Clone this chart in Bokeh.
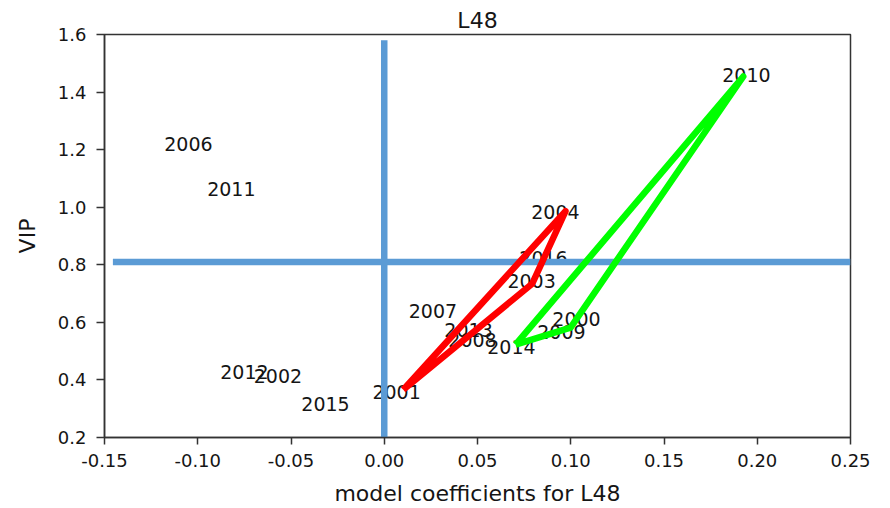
from bokeh.plotting import figure
from bokeh.models import Range1d, FixedTicker, ColumnDataSource
from bokeh.core.properties import value
from bokeh.embed import file_html
from bokeh.resources import INLINE

# ---- data ----
years = ["2006", "2011", "2012", "2002", "2015", "2001", "2016", "2003",
         "2007", "2013", "2008", "2014", "2000", "2009", "2004", "2010"]
coef = [-0.105, -0.082, -0.075, -0.057, -0.0315, 0.0066, 0.0854, 0.079,
        0.0261, 0.0452, 0.0473, 0.0682, 0.1031, 0.095, 0.0918, 0.1942]
vip = [1.221, 1.065, 0.427, 0.415, 0.318, 0.358, 0.825, 0.745,
       0.638, 0.572, 0.537, 0.516, 0.613, 0.565, 0.982, 1.458]

red_years = ["2001", "2004", "2003", "2001"]
red_x = [0.0102, 0.0972, 0.0793, 0.0102]
red_y = [0.366, 0.986, 0.734, 0.366]

green_years = ["2014", "2010", "2009", "2014"]
green_x = [0.0704, 0.1925, 0.0999, 0.0704]
green_y = [0.523, 1.454, 0.582, 0.523]

vline_x = [0.0, 0.0]
vline_y = [1.58, 0.17]
hline_x = [-0.1455, 0.25]
hline_y = [0.81, 0.81]

x_ticks = [-0.15, -0.10, -0.05, 0.0, 0.05, 0.10, 0.15, 0.20, 0.25]
x_tick_labels = ["-0.15", "-0.10", "-0.05", "0.00", "0.05", "0.10", "0.15", "0.20", "0.25"]
y_ticks = [0.2, 0.4, 0.6, 0.8, 1.0, 1.2, 1.4, 1.6]
y_tick_labels = ["0.2", "0.4", "0.6", "0.8", "1.0", "1.2", "1.4", "1.6"]

FONT = "DejaVu Sans"
INK = "#151515"

p = figure(width=890, height=508, output_backend="svg", toolbar_location=None,
           x_range=Range1d(-0.15, 0.25), y_range=Range1d(0.2, 1.6),
           min_border_left=104, min_border_right=40, min_border_bottom=71,
           min_border_top=34)

p.title.text = "L48"
p.title.text_font = FONT
p.title.text_font_size = "22px"
p.title.text_font_style = "normal"
p.title.text_color = INK
p.title.align = "center"
p.title.standoff = 4
p.title.offset = -7

p.grid.visible = False
p.outline_line_color = "#333333"
p.outline_line_width = 1.5
p.background_fill_color = "white"
p.border_fill_color = "white"

for ax in (p.xaxis[0], p.yaxis[0]):
    ax.axis_line_color = "#333333"
    ax.axis_line_width = 1.5
    ax.major_tick_line_color = "#333333"
    ax.major_tick_line_width = 1.5
    ax.major_tick_in = 0
    ax.minor_tick_line_color = None
    ax.major_label_text_font = FONT
    ax.major_label_text_font_size = "18px"
    ax.major_label_text_color = INK
    ax.axis_label_text_font = FONT
    ax.axis_label_text_font_size = "22px"
    ax.axis_label_text_font_style = "normal"
    ax.axis_label_text_color = INK

p.xaxis.ticker = FixedTicker(ticks=x_ticks)
p.xaxis.major_label_overrides = dict(zip(x_ticks, x_tick_labels))
p.xaxis.axis_label = "model coefficients for L48"
p.xaxis.major_tick_out = 7
p.xaxis.major_label_standoff = 9
p.xaxis.axis_label_standoff = 11

p.yaxis.ticker = FixedTicker(ticks=y_ticks)
p.yaxis.major_label_overrides = dict(zip(y_ticks, y_tick_labels))
p.yaxis.axis_label = "VIP"
p.yaxis.major_tick_out = 8
p.yaxis.major_label_standoff = 10
p.yaxis.axis_label_standoff = 15

src = ColumnDataSource(dict(x=coef, y=vip, t=years))
p.text(x="x", y="y", text="t", source=src, text_font=value(FONT),
       text_font_size="19px", text_color=INK, text_align="center",
       text_baseline="middle")

BLUE = "#5B9BD5"
p.line(vline_x, vline_y, line_color=BLUE, line_width=6.5, line_cap="butt")
p.line(hline_x, hline_y, line_color=BLUE, line_width=6.5, line_cap="butt")

p.line(red_x, red_y, line_color="#FF0000", line_width=6.5, line_join="round")
p.line(green_x, green_y, line_color="#00FF00", line_width=6.5, line_join="round")

open("out.html", "w").write(file_html(p, INLINE))
